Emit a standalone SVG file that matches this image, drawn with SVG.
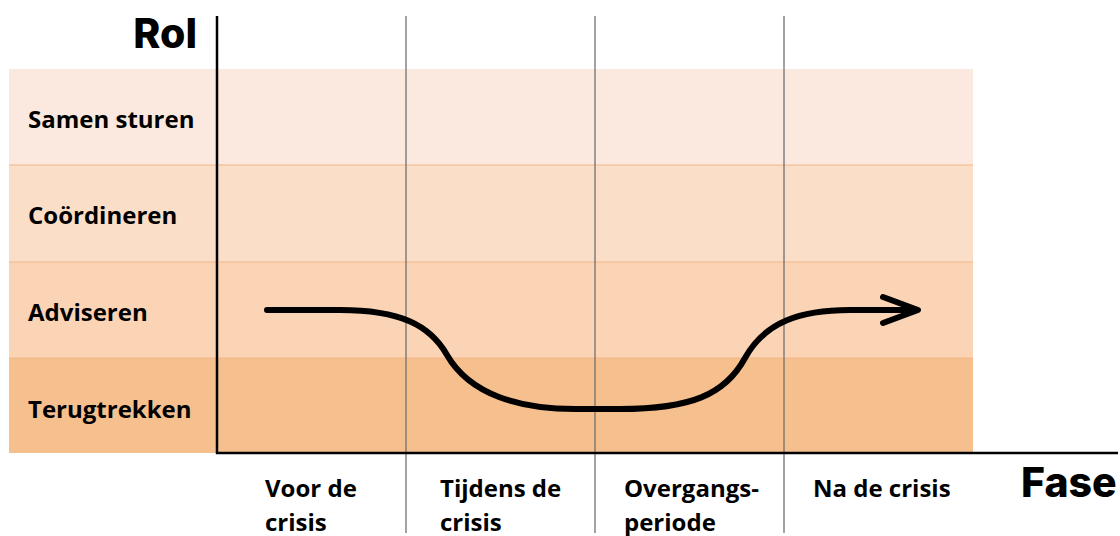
<svg xmlns="http://www.w3.org/2000/svg" width="1120" height="536" viewBox="0 0 1120 536">
<style>
.row{font-family:"Open Sans","Liberation Sans",sans-serif;font-weight:700;font-size:24px;fill:#000}
.col{font-family:"Open Sans","Liberation Sans",sans-serif;font-weight:700;font-size:24px;fill:#000}
.ax{font-family:Inter,"Liberation Sans",sans-serif;font-weight:800;font-size:41px;fill:#000}
.grid{stroke:#707070;stroke-width:1.3}
.sep{stroke:#F3B587;stroke-width:1}
</style>
<rect width="1120" height="536" fill="#fff"/>
<g id="bands">
<rect x="9" y="69" width="964" height="96" fill="#FBE9DF"/>
<rect x="9" y="165" width="964" height="97" fill="#FADEC7"/>
<rect x="9" y="262" width="964" height="96" fill="#FAD4B5"/>
<rect x="9" y="358" width="964" height="95" fill="#F6BF8E"/>
<line class="sep" x1="9" y1="165" x2="973" y2="165" stroke="#F5D2B7"/>
<line class="sep" x1="9" y1="262" x2="973" y2="262" stroke="#F5CCAA"/>
<line class="sep" x1="9" y1="358" x2="973" y2="358"/>
</g>
<g id="grid">
<line class="grid" x1="406" y1="16" x2="406" y2="533"/>
<line class="grid" x1="595" y1="16" x2="595" y2="533"/>
<line class="grid" x1="784" y1="16" x2="784" y2="533"/>
</g>
<g id="axes" stroke="#000" stroke-width="2.5">
<line x1="217" y1="16" x2="217" y2="454"/>
<line x1="216" y1="453" x2="1118" y2="453"/>
</g>
<g id="labels">
<text class="ax" x="197" y="48" text-anchor="end">Rol</text>
<text class="ax" x="1021" y="497">Fase</text>
<text class="row" x="28" y="128">Samen sturen</text>
<text class="row" x="28" y="224">Coördineren</text>
<text class="row" x="28" y="321">Adviseren</text>
<text class="row" x="28" y="418">Terugtrekken</text>
<text class="col" x="265" y="497">Voor de</text>
<text class="col" x="265" y="531">crisis</text>
<text class="col" x="440" y="497">Tijdens de</text>
<text class="col" x="440" y="531">crisis</text>
<text class="col" x="624" y="497">Overgangs-</text>
<text class="col" x="624" y="531">periode</text>
<text class="col" x="813" y="497">Na de crisis</text>
</g>
<g id="connectors" fill="none" stroke="#000" stroke-width="6" stroke-linecap="round" stroke-linejoin="round">
<path d="M267,310 L340,310 C400,310 430,325 447,355 C470,395 520,409 575,409 L620,409 C690,409 725,395 745,358 C765,322 800,310 850,310 L916,310"/>
<polyline points="883,297 918,310 883,323"/>
</g>
</svg>
